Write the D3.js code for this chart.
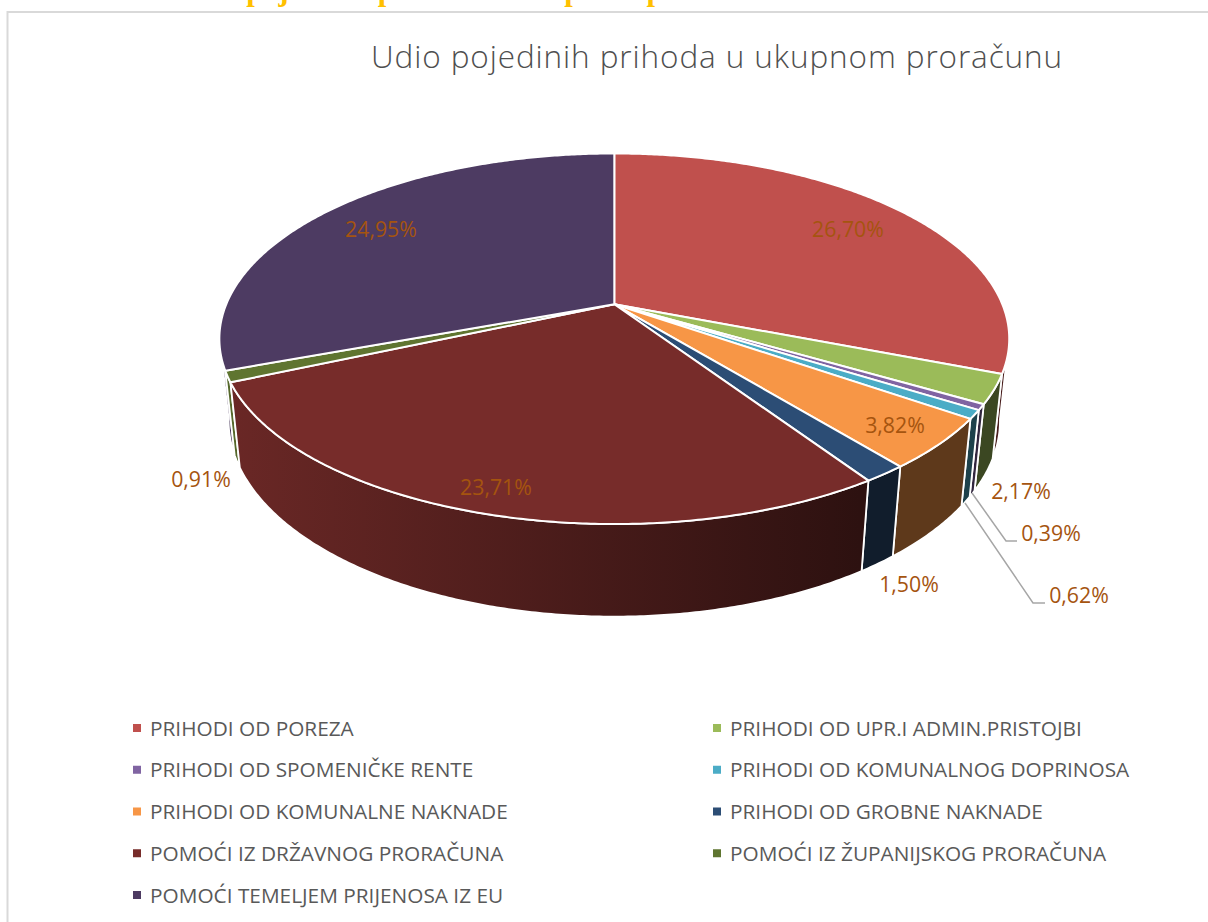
<!DOCTYPE html>
<html><head><meta charset="utf-8">
<script src="https://cdnjs.cloudflare.com/ajax/libs/d3/7.8.5/d3.min.js"></script>
<style>html,body{margin:0;padding:0;background:#fff}svg{display:block}</style>
</head><body><div id="chart"></div>
<script>
const categories = ["PRIHODI OD POREZA","PRIHODI OD UPR.I ADMIN.PRISTOJBI","PRIHODI OD SPOMENIČKE RENTE","PRIHODI OD KOMUNALNOG DOPRINOSA","PRIHODI OD KOMUNALNE NAKNADE","PRIHODI OD GROBNE NAKNADE","POMOĆI IZ DRŽAVNOG PRORAČUNA","POMOĆI IZ ŽUPANIJSKOG PRORAČUNA","POMOĆI TEMELJEM PRIJENOSA IZ EU"];
const values = [26.70,2.17,0.39,0.62,3.82,1.50,23.71,0.91,24.95];
// slice widths as drawn in the picture (degrees): the printed percentages do not add up to 100
const sliceShares = [111.3,9.1,1.8,2.7,16,5.5,99.8,3.5,110.3];
const colors = ["#c0504d","#9bbb59","#8064a2","#4bacc6","#f79646","#2c4d75","#772c2a","#5f7530","#4d3b62"];
const title = "Udio pojedinih prihoda u ukupnom proračunu";
const heading = "Grafikon 1: Udio pojedinih prihoda u ukupnom proračunu";

const labelPositions = [[848,229],[1021,491],[1051,533],[1079,595],[895,425],[909,584],[496,487],[201,479],[381,229]];

const W=1208,H=922, cx=614.3, cy=304.3;
const F=1851, D=4.77, sinP=0.461, cosP=0.887, wallH=0.24;
function project(t,z){
  const X=Math.sin(t),Y=-Math.cos(t),h=z*wallH;
  const w=D-Y*cosP+h*sinP;
  return [cx+F*X/w, cy+F*(Y*sinP+h*cosP)/w];
}
const fmt = v => d3.format(".2f")(v).replace(".",",")+"%";
const svg=d3.select("#chart").append("svg").attr("width",W).attr("height",H);
const font="'Open Sans',sans-serif";

svg.append("text").attr("x",15).attr("y",-0.5).attr("font-family","'Liberation Serif',serif").attr("font-weight","bold")
  .attr("font-size",30.5).attr("fill","#ffc000").text(heading);
svg.append("path").attr("d",`M${W},12H7.5V${H}`).attr("fill","none").attr("stroke","#d9d9d9").attr("stroke-width",2);
svg.append("text").attr("x",371).attr("y",68).attr("font-family",font).attr("font-size",31.5).attr("font-weight",300)
  .attr("letter-spacing",0.9).attr("fill","#4f4f4f").text(title);

const arcs=d3.pie().sort(null).value(d=>d)(sliceShares);
const line=d3.line();
const defs=svg.append("defs");
const shade=d3.scaleLinear().domain([219,860,1008]).range([0.9,0.38,0.38]);
colors.forEach((c,i)=>{
  const g=defs.append("linearGradient").attr("id","wall"+i).attr("gradientUnits","userSpaceOnUse")
    .attr("x1",219).attr("x2",1008).attr("y1",0).attr("y2",0);
  const rgb=d3.rgb(c);
  shade.domain().forEach(x=>{
    const k=shade(x);
    g.append("stop").attr("offset",(x-219)/(1008-219)).attr("stop-color",d3.rgb(rgb.r*k,rgb.g*k,rgb.b*k).formatHex());
  });
});
const step=Math.PI/360, tMin=100*Math.PI/180, tMax=260*Math.PI/180;
function rim(a,b){
  const n=Math.max(2,Math.ceil((b-a)/step)+1);
  return d3.range(n).map(i=>a+(b-a)*i/(n-1));
}
const walls=arcs.map((d,i)=>({i,a:Math.max(d.startAngle,tMin),b:Math.min(d.endAngle,tMax)}))
  .filter(d=>d.b>d.a)
  .sort((p,q)=>Math.abs((q.a+q.b)/2-Math.PI)-Math.abs((p.a+p.b)/2-Math.PI));
svg.append("g").selectAll("path").data(walls).join("path")
  .attr("d",d=>{const r=rim(d.a,d.b);
    return line(r.map(t=>project(t,0)).concat(r.slice().reverse().map(t=>project(t,1))))+"Z";})
  .attr("fill",d=>`url(#wall${d.i})`).attr("stroke","#fff").attr("stroke-width",1.8).attr("stroke-linejoin","round");
svg.append("g").selectAll("path").data(arcs).join("path")
  .attr("d",d=>line([[cx,cy]].concat(rim(d.startAngle,d.endAngle).map(t=>project(t,0))))+"Z")
  .attr("fill",(d,i)=>colors[i]).attr("stroke","#fff").attr("stroke-width",2).attr("stroke-linejoin","round");
const leaders=[[2,[[972,493],[1006,541],[1017,541]]],[3,[[965,503],[1033,603],[1045,603]]]];
svg.append("g").selectAll("path").data(leaders).join("path")
  .attr("d",d=>line(d[1])).attr("fill","none").attr("stroke","#a6a6a6").attr("stroke-width",1.5);
svg.append("g").selectAll("text").data(values).join("text")
  .attr("x",(d,i)=>labelPositions[i][0]).attr("y",(d,i)=>labelPositions[i][1]+8)
  .attr("text-anchor","middle").attr("font-family",font).attr("font-size",21.3)
  .attr("fill","#a5540f").text(fmt);
const rowY=d3.scalePoint().domain(d3.range(5)).range([728,895]);
const colX=[133,713];
const lg=svg.append("g").selectAll("g").data(categories).join("g")
  .attr("transform",(d,i)=>`translate(${colX[i%2]},${rowY(Math.floor(i/2))})`);
lg.append("rect").attr("x",0).attr("y",-4).attr("width",8).attr("height",8).attr("fill",(d,i)=>colors[i]);
lg.append("text").attr("x",17).attr("y",7.5).attr("font-family",font).attr("font-size",20.8)
  .attr("fill","#595959").text(d=>d);
</script></body></html>
